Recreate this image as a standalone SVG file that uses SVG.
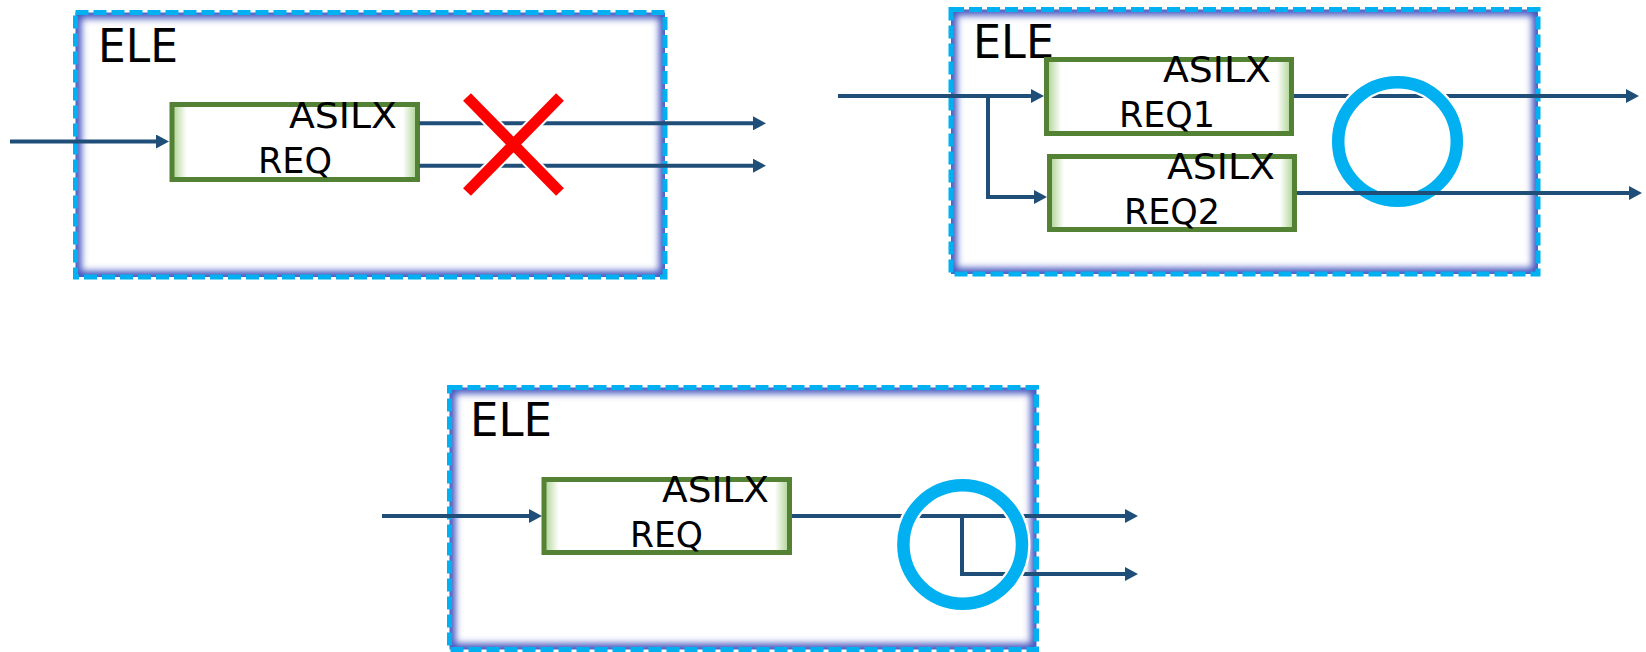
<svg xmlns="http://www.w3.org/2000/svg" width="1646" height="652" viewBox="0 0 1646 652">
<style>
.ele-bg{fill:#ffffff}
.glow{fill:none;stroke:#4457c0;stroke-width:12}
.ele-border{fill:none;stroke:#00b0f0;stroke-width:5;stroke-dasharray:13 5}
.ele-label{font-family:"DejaVu Sans",sans-serif;font-size:47px;fill:#000}
.req{fill:url(#greenFill);stroke:#548235;stroke-width:5}
.req-label{font-family:"DejaVu Sans",sans-serif;font-size:36px;fill:#000}
.conn{fill:none;stroke:#1f4e79;stroke-width:4;marker-end:url(#arrow)}
.ring-under{fill:none;stroke:#ffffff;stroke-width:17}
.ring{fill:none;stroke:#00b0f0;stroke-width:12.5}
.cross-under{stroke:#ffffff;stroke-width:15}
.cross{stroke:#ff0000;stroke-width:11}
</style>
<defs>
<linearGradient id="greenFill" x1="0" y1="0" x2="1" y2="0">
<stop offset="0" stop-color="#a9d18e"/>
<stop offset="0.06" stop-color="#ffffff"/>
<stop offset="0.94" stop-color="#ffffff"/>
<stop offset="1" stop-color="#a9d18e"/>
</linearGradient>
<filter id="blur" x="-10%" y="-10%" width="120%" height="120%">
<feGaussianBlur stdDeviation="3.5"/>
</filter>
<clipPath id="clip1"><rect x="75.5" y="12.5" width="589.5" height="264.5"/></clipPath>
<clipPath id="clip2"><rect x="951" y="9.5" width="587" height="264.5"/></clipPath>
<clipPath id="clip3"><rect x="449.5" y="387.5" width="587" height="262"/></clipPath>
<marker id="arrow" markerUnits="userSpaceOnUse" markerWidth="14" markerHeight="14" refX="3" refY="7" orient="auto">
<path d="M0,0 L13,7 L0,14 z" fill="#1f4e79"/>
</marker>
</defs>

<g id="ele1">
<rect class="ele-bg" x="75.5" y="12.5" width="589.5" height="264.5"/>
<g clip-path="url(#clip1)"><rect class="glow" x="75.5" y="12.5" width="589.5" height="264.5" filter="url(#blur)"/></g>
<rect class="ele-border" x="75.5" y="12.5" width="589.5" height="264.5"/>
<text class="ele-label" x="98" y="62" textLength="80" lengthAdjust="spacingAndGlyphs">ELE</text>
</g>
<g id="ele2">
<rect class="ele-bg" x="951" y="9.5" width="587" height="264.5"/>
<g clip-path="url(#clip2)"><rect class="glow" x="951" y="9.5" width="587" height="264.5" filter="url(#blur)"/></g>
<rect class="ele-border" x="951" y="9.5" width="587" height="264.5"/>
<text class="ele-label" x="973" y="58" textLength="81" lengthAdjust="spacingAndGlyphs">ELE</text>
</g>
<g id="ele3">
<rect class="ele-bg" x="449.5" y="387.5" width="587" height="262"/>
<g clip-path="url(#clip3)"><rect class="glow" x="449.5" y="387.5" width="587" height="262" filter="url(#blur)"/></g>
<rect class="ele-border" x="449.5" y="387.5" width="587" height="262"/>
<text class="ele-label" x="470" y="436" textLength="82" lengthAdjust="spacingAndGlyphs">ELE</text>
</g>

<g id="req1">
<rect class="req" x="172" y="104.5" width="245.5" height="75"/>
<text class="req-label" x="289" y="128" textLength="108" lengthAdjust="spacingAndGlyphs">ASILX</text>
<text class="req-label" x="258" y="173" textLength="74" lengthAdjust="spacingAndGlyphs">REQ</text>
</g>
<g id="req2a">
<rect class="req" x="1046.5" y="59.5" width="245" height="74"/>
<text class="req-label" x="1163" y="82" textLength="108" lengthAdjust="spacingAndGlyphs">ASILX</text>
<text class="req-label" x="1119" y="127" textLength="96" lengthAdjust="spacingAndGlyphs">REQ1</text>
</g>
<g id="req2b">
<rect class="req" x="1049.5" y="156.5" width="245" height="73"/>
<text class="req-label" x="1167" y="179" textLength="108" lengthAdjust="spacingAndGlyphs">ASILX</text>
<text class="req-label" x="1124" y="224" textLength="96" lengthAdjust="spacingAndGlyphs">REQ2</text>
</g>
<g id="req3">
<rect class="req" x="544" y="479.5" width="245.5" height="73"/>
<text class="req-label" x="662" y="502" textLength="107" lengthAdjust="spacingAndGlyphs">ASILX</text>
<text class="req-label" x="630" y="547" textLength="73" lengthAdjust="spacingAndGlyphs">REQ</text>
</g>

<g id="connectors">
<path class="conn" d="M10,141.5 H159"/>
<path class="conn" d="M419.5,123.3 H756"/>
<path class="conn" d="M419.5,165.7 H756"/>
<path class="conn" d="M838,96 H1034"/>
<path class="conn" d="M988,96 V197 H1037"/>
<path class="conn" d="M1294,96 H1629"/>
<path class="conn" d="M382,516 H532"/>
<path class="conn" d="M792,516 H1128"/>
<path class="conn" d="M962,516 V574 H1128"/>
</g>

<g id="cross1">
<path class="cross-under" d="M467,97 L560,192 M560,97 L467,192"/>
<path class="cross" d="M467,97 L560,192 M560,97 L467,192"/>
</g>
<g id="ring2">
<circle class="ring-under" cx="1397.5" cy="141.5" r="59.3"/>
<circle class="ring" cx="1397.5" cy="141.5" r="59.3"/>
</g>
<g id="ring3">
<circle class="ring-under" cx="962.7" cy="544.5" r="59.3"/>
<circle class="ring" cx="962.7" cy="544.5" r="59.3"/>
</g>
<g id="connectors-over">
<path class="conn" d="M1297,193 H1632"/>
</g>
</svg>
